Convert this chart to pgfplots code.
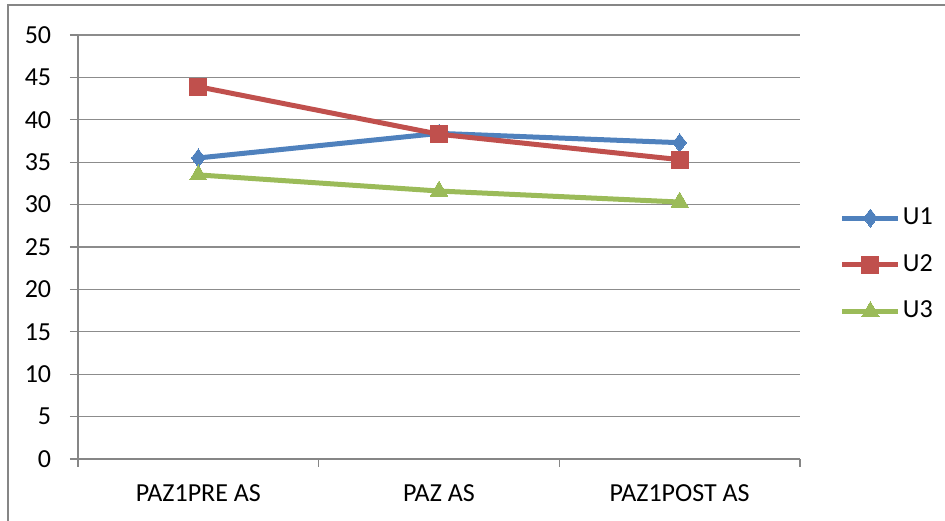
\documentclass[border=0pt]{standalone}
\usepackage{fontspec}
\setmainfont{Carlito}
\usepackage{pgfplots}
\pgfplotsset{compat=1.18}
\definecolor{cU1}{HTML}{4F81BD}
\definecolor{cU2}{HTML}{C0504D}
\definecolor{cU3}{HTML}{9BBB59}
\definecolor{axgray}{HTML}{868686}
\definecolor{gridgray}{HTML}{8C8C8C}
\begin{document}
\fontsize{26}{31}\selectfont
\begin{tikzpicture}[x=1pt,y=1pt]
\path[use as bounding box] (0,0) rectangle (945,521);
\draw[draw=axgray, line width=1.2pt] (8,0) -- (8,516) -- (945,516);
\begin{axis}[
  at={(78pt,62pt)}, anchor=south west,
  scale only axis, width=722pt, height=424pt,
  xmin=-0.5, xmax=2.5, ymin=0, ymax=50,
  ytick={0,5,...,50},
  xtick={-0.5,0.5,1.5,2.5},
  x tick label as interval,
  xticklabels={PAZ1PRE AS, PAZ AS, PAZ1POST AS},
  axis x line=bottom, axis y line=left,
  axis line style={-, draw=axgray, line width=1.2pt},
  tick style={draw=axgray, line width=1.2pt},
  tick align=outside, major tick length=8pt,
  ymajorgrids, grid style={draw=gridgray, line width=1.2pt},
  /pgf/number format/assume math mode=true,
  tick label style={font=\fontsize{26}{31}\selectfont, text=black},
  yticklabel style={xshift=-10pt},
  xticklabel style={yshift=-9pt},
  legend style={at={(1.055,0.458)}, anchor=west, draw=none, fill=none,
    inner sep=0pt, row sep=22pt, font=\fontsize{26}{31}\selectfont},
  legend cell align=left,
  legend image code/.code={\draw[mark repeat=2,mark phase=2,#1] plot coordinates {(0pt,0pt) (28pt,0pt) (56pt,0pt)};},
  every axis plot/.append style={line width=5pt},
]
\addplot[color=cU1, mark=diamond*, mark size=9pt, mark options={solid, fill=cU1, line width=0pt}]
  coordinates {(0,35.5) (1,38.4) (2,37.3)};
\addlegendentry{U1}
\addplot[color=cU2, mark=square*, mark size=8.5pt, mark options={solid, fill=cU2, line width=0pt}]
  coordinates {(0,43.9) (1,38.3) (2,35.3)};
\addlegendentry{U2}
\addplot[color=cU3, mark=triangle*, mark size=10pt, mark options={solid, fill=cU3, line width=0pt}]
  coordinates {(0,33.5) (1,31.6) (2,30.3)};
\addlegendentry{U3}
\end{axis}
\end{tikzpicture}
\end{document}
